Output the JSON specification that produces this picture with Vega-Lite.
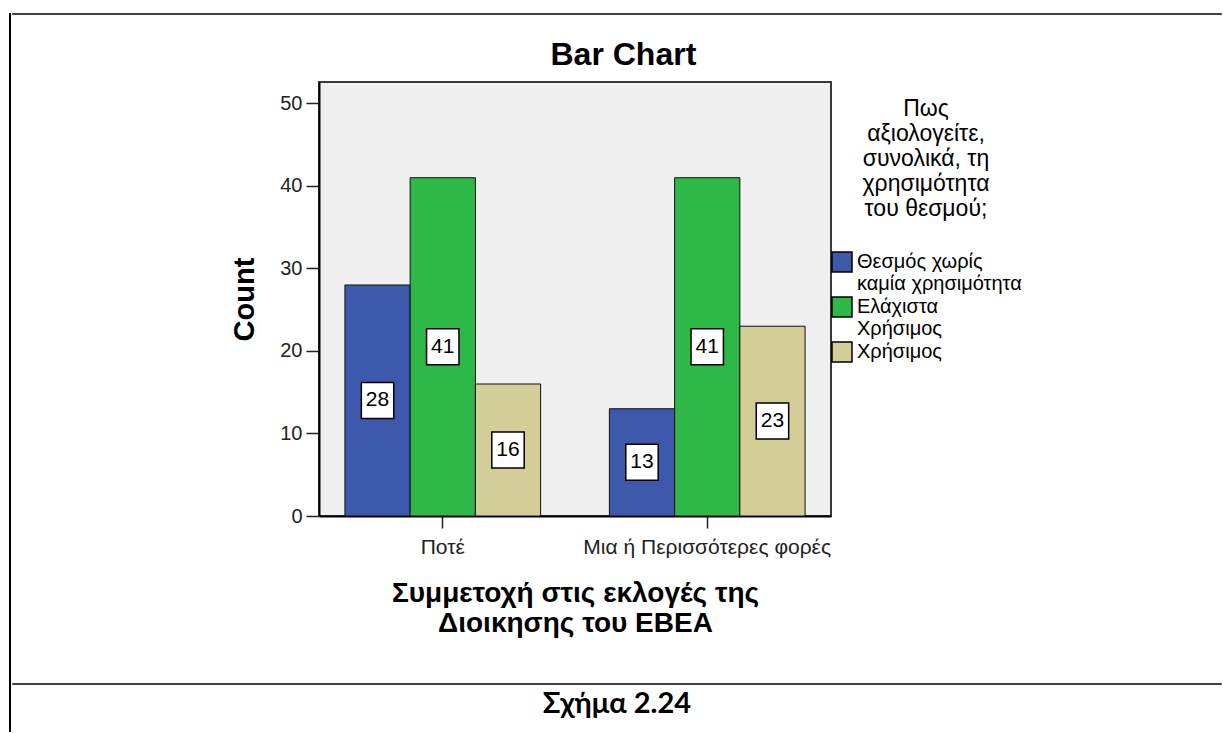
{
  "$schema": "https://vega.github.io/schema/vega-lite/v6.json",
  "padding": {"left": 9, "top": 13, "right": 0, "bottom": 0},
  "config": {
    "view": {"stroke": null},
    "font": "Liberation Sans"
  },
  "datasets": {
    "counts": [
      {"group": "Ποτέ", "rating": "Θεσμός χωρίς καμία χρησιμότητα", "count": 28},
      {"group": "Ποτέ", "rating": "Ελάχιστα Χρήσιμος", "count": 41},
      {"group": "Ποτέ", "rating": "Χρήσιμος", "count": 16},
      {"group": "Μια ή Περισσότερες φορές", "rating": "Θεσμός χωρίς καμία χρησιμότητα", "count": 13},
      {"group": "Μια ή Περισσότερες φορές", "rating": "Ελάχιστα Χρήσιμος", "count": 41},
      {"group": "Μια ή Περισσότερες φορές", "rating": "Χρήσιμος", "count": 23}
    ],
    "caption": [{"caption": "Σχήμα 2.24"}],
    "blank": []
  },
  "spacing": 0,
  "resolve": {"legend": {"color": "independent"}},
  "hconcat": [
    {
      "width": 0.01, "height": 717,
      "view": {"stroke": "black", "strokeWidth": 2},
      "data": {"name": "blank"},
      "mark": {"type": "point", "opacity": 0},
      "encoding": {}
    },
    {
      "spacing": 0,
      "resolve": {"legend": {"color": "independent"}},
      "vconcat": [
        {
          "width": 1208, "height": 0.01,
          "view": {"stroke": "black", "strokeWidth": 1.5},
          "data": {"name": "blank"},
          "mark": {"type": "point", "opacity": 0},
          "encoding": {}
        },
        {
          "width": 1, "height": 23,
          "data": {"name": "blank"},
          "mark": {"type": "point", "opacity": 0},
          "encoding": {}
        },
        {
          "spacing": 0,
          "resolve": {"legend": {"color": "independent"}},
          "hconcat": [
            {
              "width": 216, "height": 434,
              "data": {"name": "blank"},
              "mark": {"type": "point", "opacity": 0},
              "encoding": {}
            },
            {
              "width": 512, "height": 434,
              "view": {"fill": "#f0f0f0", "stroke": "#3a3a3a", "strokeWidth": 2},
              "data": {"name": "counts"},
              "title": {"text": "Bar Chart", "fontSize": 32, "fontWeight": "bold", "color": "black", "anchor": "middle", "frame": "bounds", "offset": 10, "dx": -11},
              "encoding": {
                "x": {
                  "field": "group", "type": "nominal",
                  "sort": ["Ποτέ", "Μια ή Περισσότερες φορές"],
                  "scale": {"paddingInner": 0.26, "paddingOuter": 0.098},
                  "axis": {
                    "title": ["Συμμετοχή στις εκλογές της", "Διοικησης του ΕΒΕΑ"],
                    "labelAngle": 0, "labelLimit": 500,
                    "domain": true, "domainColor": "black", "domainWidth": 2,
                    "ticks": true, "tickSize": 12, "tickColor": "#222", "tickWidth": 1.5,
                    "labelFontSize": 21, "labelColor": "#222", "labelPadding": 8,
                    "titleFontSize": 28, "titleFontWeight": "bold", "titleColor": "black",
                    "titlePadding": 22, "titleLineHeight": 30
                  }
                },
                "xOffset": {
                  "field": "rating", "type": "nominal",
                  "sort": ["Θεσμός χωρίς καμία χρησιμότητα", "Ελάχιστα Χρήσιμος", "Χρήσιμος"],
                  "scale": {"paddingInner": 0, "paddingOuter": 0}
                }
              },
              "layer": [
                {
                  "mark": {"type": "bar", "stroke": "#111", "strokeWidth": 1},
                  "encoding": {
                    "y": {
                      "field": "count", "type": "quantitative",
                      "scale": {"domain": [0, 52.6], "nice": false},
                      "axis": {
                        "values": [0, 10, 20, 30, 40, 50], "title": "Count", "grid": false,
                        "domain": true, "domainColor": "black", "domainWidth": 2,
                        "tickColor": "#222", "tickSize": 13, "tickWidth": 1.5,
                        "labelFontSize": 20, "labelColor": "#222", "labelPadding": 4,
                        "titleFontSize": 29, "titleFontWeight": "bold", "titleColor": "black", "titlePadding": 20
                      }
                    },
                    "color": {
                      "field": "rating", "type": "nominal",
                      "sort": ["Θεσμός χωρίς καμία χρησιμότητα", "Ελάχιστα Χρήσιμος", "Χρήσιμος"],
                      "scale": {"domain": ["Θεσμός χωρίς καμία χρησιμότητα", "Ελάχιστα Χρήσιμος", "Χρήσιμος"], "range": ["#3e58ab", "#2eb848", "#d3ce97"]},
                      "legend": {
                        "title": ["Πως", "αξιολογείτε,", "συνολικά, τη", "χρησιμότητα", "του θεσμού;"],
                        "titleFontSize": 23, "titleFontWeight": "normal", "titleColor": "black",
                        "titleLineHeight": 25, "titleAlign": "center", "titleAnchor": "middle", "titlePadding": 30, "titleLimit": 400,
                        "labelExpr": "datum.label == 'Θεσμός χωρίς καμία χρησιμότητα' ? ['Θεσμός χωρίς', 'καμία χρησιμότητα'] : datum.label == 'Ελάχιστα Χρήσιμος' ? ['Ελάχιστα', 'Χρήσιμος'] : datum.label",
                        "labelFontSize": 20, "labelLineHeight": 19, "labelColor": "black", "labelLimit": 400, "labelOffset": 4,
                        "symbolType": "square", "symbolSize": 400, "symbolStrokeColor": "black", "symbolStrokeWidth": 1.5, "symbolOpacity": 1,
                        "rowPadding": 0, "padding": 16, "offset": -16
                      }
                    }
                  }
                },
                {
                  "mark": {"type": "point", "shape": "M-0.9,-1H0.9V1H-0.9Z", "size": 1296, "filled": true, "fill": "white", "stroke": "black", "strokeWidth": 1.5, "opacity": 1},
                  "encoding": {
                    "y": {"field": "count", "type": "quantitative", "scale": {"domain": [0, 105.2], "nice": false}, "axis": null}
                  }
                },
                {
                  "mark": {"type": "text", "fontSize": 21, "color": "black", "baseline": "middle", "align": "center"},
                  "encoding": {
                    "y": {"field": "count", "type": "quantitative", "scale": {"domain": [0, 105.2], "nice": false}, "axis": null},
                    "text": {"field": "count", "type": "quantitative"}
                  }
                }
              ],
              "resolve": {"scale": {"y": "independent"}}
            }
          ]
        },
        {
          "width": 1, "height": 45,
          "data": {"name": "blank"},
          "mark": {"type": "point", "opacity": 0},
          "encoding": {}
        },
        {
          "width": 1208, "height": 0.01,
          "view": {"stroke": "black", "strokeWidth": 1.5},
          "data": {"name": "blank"},
          "mark": {"type": "point", "opacity": 0},
          "encoding": {}
        },
        {
          "width": 1208, "height": 38,
          "data": {"name": "caption"},
          "mark": {"type": "text", "font": "Lato", "fontSize": 29, "fontWeight": "bold", "color": "black", "baseline": "middle", "align": "center"},
          "encoding": {"text": {"field": "caption", "type": "nominal"}}
        }
      ]
    }
  ]
}
